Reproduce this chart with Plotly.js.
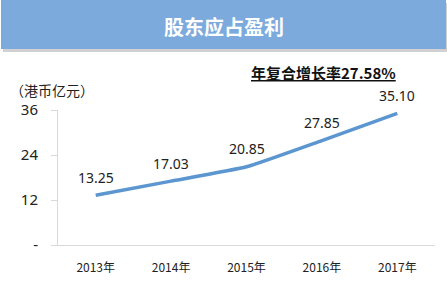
<!DOCTYPE html>
<html><head><meta charset="utf-8">
<script src="https://cdn.plot.ly/plotly-3.0.1.min.js"></script>
<style>html,body{margin:0;padding:0;background:#fff;}#chart{width:447px;height:281px;}</style>
</head><body><div id="chart"></div>
<script>
const categories = ['2013年','2014年','2015年','2016年','2017年'];
const profit = [13.25, 17.03, 20.85, 27.85, 35.10];
const yTickVals = [0, 12, 24, 36];
const yTickText = ['-', '12', '24', '36'];
const chartTitle = '股东应占盈利';
const unitLabel = '（港币亿元）';
const cagrLabel = '年复合增长率27.58%';

const W = 447, H = 281;
const L = 58, R = 12, T = 110, B = 36;
const pw = W - L - R, ph = H - T - B;
const px = x => (x - L) / pw;
const py = y => (H - B - y) / ph;

const font = "'Noto Sans CJK SC', 'Noto Sans', sans-serif";

const annotations = categories.map((c, i) => ({
  x: c, y: profit[i], xref: 'x', yref: 'y',
  text: profit[i].toFixed(2), showarrow: false, yshift: 18,
  xanchor: 'center', yanchor: 'middle',
  font: {family: "'Noto Sans', sans-serif", size: 14, color: '#222'}
}));
annotations.push({
  x: px(52), y: py(90), xref: 'paper', yref: 'paper', showarrow: false,
  xanchor: 'center', yanchor: 'middle',
  text: unitLabel, font: {family: font, size: 14, color: '#222'}
});
annotations.push({
  x: px(323), y: py(72), xref: 'paper', yref: 'paper', showarrow: false,
  xanchor: 'center', yanchor: 'middle',
  text: '<u><b>' + cagrLabel + '</b></u>', font: {family: font, size: 15, color: '#111'}
});
annotations.push({
  x: px(224), y: py(26), xref: 'paper', yref: 'paper', showarrow: false,
  xanchor: 'center', yanchor: 'middle',
  text: '<b>' + chartTitle + '</b>', font: {family: font, size: 20, color: '#ffffff'}
});

const shapes = [
  {type: 'rect', xref: 'paper', yref: 'paper', x0: px(3), x1: px(447), y0: py(3), y1: py(52),
   fillcolor: 'rgba(0,0,0,0.18)', line: {width: 0}, layer: 'below'},
  {type: 'rect', xref: 'paper', yref: 'paper', x0: px(1), x1: px(446), y0: py(0), y1: py(49),
   fillcolor: '#7DAADC', line: {width: 0}, layer: 'below'}
];

Plotly.newPlot('chart', [{
  type: 'scatter', mode: 'lines', x: categories, y: profit,
  line: {color: '#5B96D0', width: 3.5, shape: 'spline', smoothing: 0.4},
  hoverinfo: 'none', cliponaxis: false
}], {
  width: W, height: H,
  margin: {l: L, r: R, t: T, b: B, pad: 0},
  paper_bgcolor: '#fff', plot_bgcolor: '#fff',
  showlegend: false,
  xaxis: {
    type: 'category', range: [-0.5, 4.5], showgrid: false, zeroline: false,
    showline: true, linecolor: '#D9D9D9', linewidth: 1, ticks: '',
    tickfont: {family: font, size: 12, color: '#222'}, ticklabelstandoff: 12, fixedrange: true
  },
  yaxis: {
    range: [0, 36], tickvals: yTickVals, ticktext: yTickText, showgrid: false, zeroline: false,
    showline: true, linecolor: '#D9D9D9', linewidth: 1, ticks: 'outside', ticklen: 6,
    tickcolor: '#D9D9D9', tickfont: {family: "'Noto Sans', sans-serif", size: 15, color: '#222'},
    ticklabelstandoff: 10, fixedrange: true
  },
  shapes: shapes,
  annotations: annotations
}, {displayModeBar: false, staticPlot: true});
</script></body></html>
